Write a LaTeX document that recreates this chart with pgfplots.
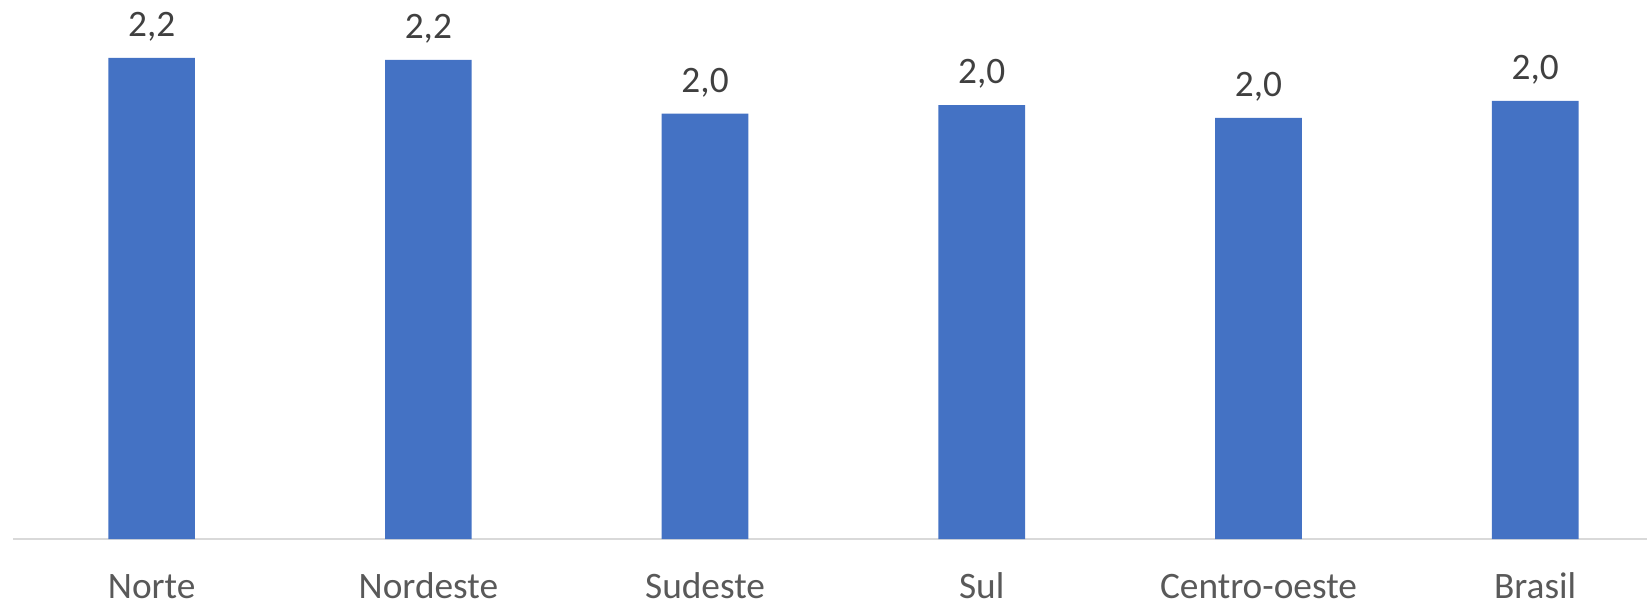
\documentclass[border=0pt]{standalone}
\usepackage{fontspec}
\setmainfont{Carlito}
\usepackage{pgfplots}
\pgfplotsset{compat=1.18}
\definecolor{barblue}{HTML}{4472C4}
\definecolor{lbl}{HTML}{404040}
\definecolor{cat}{HTML}{595959}
\definecolor{axl}{HTML}{D9D9D9}
\begin{document}
\begin{tikzpicture}
\begin{axis}[
  at={(3.99pt,-161.7pt)}, anchor=south west,
  scale only axis, width=490.1pt, height=161.1pt,
  xmin=-0.5, xmax=5.404, ymin=0, ymax=2.5,
  axis x line*=bottom, axis y line=none,
  x axis line style={-, draw=axl, line width=0.6pt},
  xtick={0,...,5},
  xticklabels={Norte,Nordeste,Sudeste,Sul,Centro-oeste,Brasil},
  ytick=\empty,
  major tick length=0pt,
  xticklabel style={anchor=base, yshift=-17.7pt, font=\fontsize{11.2}{13}\selectfont, text=cat},
  ybar, bar width=26pt,
  nodes near coords={\pgfmathprintnumber[fixed,fixed zerofill,precision=1,use comma,assume math mode=true]{\pgfplotspointmeta}},
  nodes near coords style={anchor=base, yshift=6.4pt, font=\fontsize{11.2}{13}\selectfont, text=lbl},
  clip=false,
]
\addplot[fill=barblue, draw=none] coordinates {(0,2.24) (1,2.23) (2,1.98) (3,2.02) (4,1.96) (5,2.04)};
\end{axis}
\pgfresetboundingbox
\useasboundingbox (0,0) rectangle (494.1pt,-181.5pt);
\end{tikzpicture}
\end{document}
